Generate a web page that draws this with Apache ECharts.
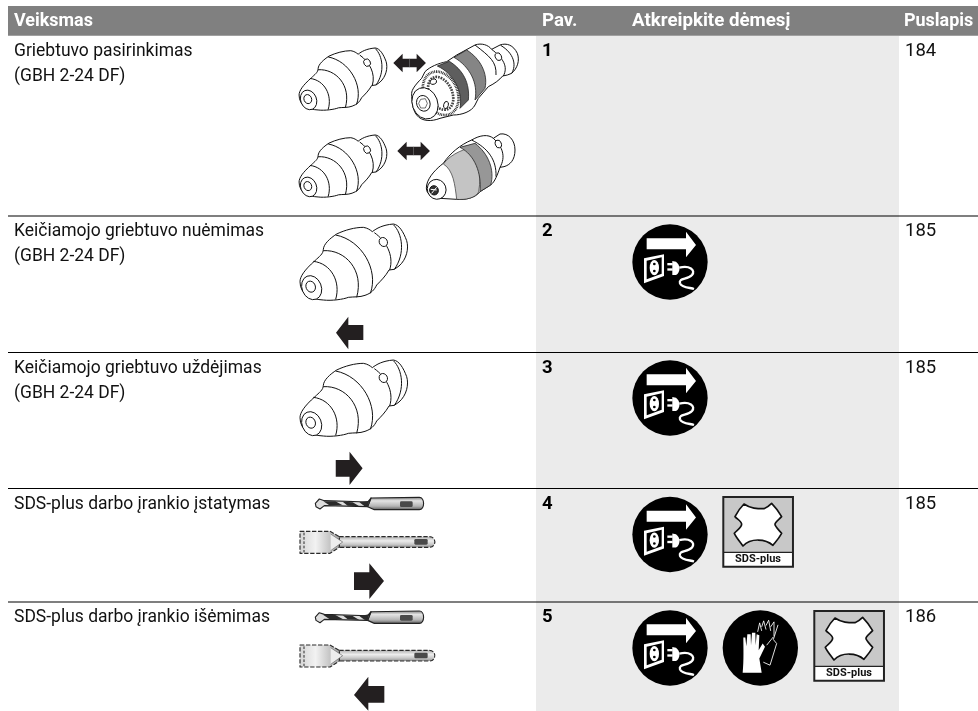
<!DOCTYPE html>
<html><head><meta charset="utf-8">
<style>html,body{margin:0;padding:0;background:#fff}#c{width:978px;height:711px}</style>
<script src="https://cdn.jsdelivr.net/npm/echarts@6/dist/echarts.min.js"></script>
</head><body><div id="c"></div>
<script>
// ---- table content ----
const headers = ['Veiksmas', 'Pav.', 'Atkreipkite dėmesį', 'Puslapis'];
const actions = [
  ['Griebtuvo pasirinkimas', '(GBH 2-24 DF)'],
  ['Keičiamojo griebtuvo nuėmimas', '(GBH 2-24 DF)'],
  ['Keičiamojo griebtuvo uždėjimas', '(GBH 2-24 DF)'],
  ['SDS-plus darbo įrankio įstatymas'],
  ['SDS-plus darbo įrankio išėmimas']
];
const figures = ['1', '2', '3', '4', '5'];
const pages = ['184', '185', '185', '185', '186'];
const sdsLabel = 'SDS-plus';

// ---- layout ----
const FONT = 'Roboto, sans-serif';
const ruleY = [215.6, 352, 488, 601.6];
const rowTop = [36, 216, 352.5, 488.5, 602];
const headX = [14, 542, 632, 904];
const els = [];
const grp = (x, y, s, children, sy) => ({type:'group', x, y, scaleX:s, scaleY:sy||s, children});
const P = (d, fill, stroke, lw, dash) => ({type:'path', shape:{pathData:d}, style:{fill:fill||'none', stroke:stroke||'none', lineWidth:lw||0, lineDash:dash||null, lineJoin:'round'}});
const ell = (cx,cy,rx,ry,rot) => {
  const a = rot*Math.PI/180, dx = rx*Math.cos(a), dy = rx*Math.sin(a);
  return `M ${cx-dx} ${cy-dy} A ${rx} ${ry} ${rot} 1 0 ${cx+dx} ${cy+dy} A ${rx} ${ry} ${rot} 1 0 ${cx-dx} ${cy-dy} Z`;
};
const rect = (x,y,w,h,fill,r) => ({type:'rect', shape:{x,y,width:w,height:h,r:r||0}, style:{fill}});
const circ = (cx,cy,r,fill) => ({type:'circle', shape:{cx,cy,r}, style:{fill}});
const T = (x,y,text,size,weight,fill,sx) => ({type:'text', x, y, scaleX:sx||1, style:{text, fontFamily:FONT, fontSize:size, fontWeight:weight, fill, verticalAlign:'middle', align:'left'}});

// backgrounds
els.push(rect(536,36,363,675,'#ebebeb'));
els.push(rect(8,6,970,29.7,'#808080'));
ruleY.forEach(y => els.push(rect(8,y,970,1,'#000')));

// plain chuck
function chuck(x,y,s){
  const lw = 1.0/s;
  return grp(x,y,s,[
    P('M 15 185 C 15 170 28 150 60 122 C 72 110 85 102 85 88 C 86 72 105 55 125 42 C 150 30 180 22 205 22 C 218 24 226 30 232 35 C 245 25 262 15 295 12 C 312 14 325 35 335 62 C 342 85 335 118 312 138 L 298 148 L 282 150 C 272 168 258 182 245 195 C 238 210 228 220 210 226 C 195 232 175 230 160 232 C 145 238 110 243 85 240 C 50 238 15 225 15 185 Z','#fff','#111',lw),
    P(ell(50,203,29,37,-22),'#fff','#111',lw),
    P(ell(47,200,14,17,-22),'#fff','#111',lw),
    P('M 55 124 C 108 130 138 185 122 238','none','#111',lw),
    P('M 85 92 C 150 88 208 150 185 232','none','#111',lw),
    P('M 122 45 C 200 60 252 150 226 220','none','#111',lw),
    P('M 238 38 C 272 62 298 105 284 150','none','#111',lw),
    P('M 295 14 C 322 40 332 100 298 148','none','#111',lw),
    P(ell(265,66,12,14,-30),'#fff','#111',lw)
  ]);
}
// keyed chuck
function keyed(x,y,s){
  const lw = 1.0/s;
  return grp(x,y,s,[
    P('M 5 160 C 5 150 15 135 35 115 L 45 95 C 60 80 85 70 110 65 L 140 45 L 195 15 C 215 8 235 15 245 28 L 270 15 C 290 8 310 15 322 40 C 330 62 322 85 305 100 L 292 105 L 278 108 C 268 120 255 130 235 140 L 205 175 L 195 195 C 185 215 155 225 130 225 L 90 235 C 65 245 35 245 20 225 C 8 210 5 185 5 160 Z','#fff','#111',lw),
    P('M 82 78 L 118 64 C 160 90 180 130 175 180 L 150 205 C 160 155 130 100 82 78 Z','#5e5e5e','#222',lw*0.8),
    P('M 132 52 L 170 30 C 210 55 235 100 225 145 L 195 180 C 205 130 180 80 132 52 Z','#858585','#222',lw*0.8),
    P(ell(92,160,50,68,-25),'#fff','#222',8,[2.5,2.5]),
    P(ell(92,160,34,52,-25),'none','#444',8,[5,3]),
    P(ell(45,190,38,48,-20),'#fff','#111',lw),
    P(ell(40,190,20,24,-20),'#fff','#111',lw),
    P('M 32 178 L 46 176 L 52 190 L 46 204 L 32 204 L 26 190 Z','#fff','#333',lw*0.7),
    P(ell(70,125,10,8,-20),'#fff','#111',lw),
    P(ell(108,195,7,11,15),'#fff','#111',lw),
    P('M 195 15 C 240 50 260 65 258 105','none','#111',lw),
    P('M 245 28 C 280 55 295 80 280 108','none','#111',lw),
    P('M 272 16 C 312 40 320 75 305 100','none','#111',lw),
    P(ell(265,50,9,12,-25),'#fff','#111',lw)
  ]);
}
// keyless chuck
function keyless(x,y,s){
  const lw = 1.0/s;
  return grp(x,y,s,[
    P('M 440 165 C 445 140 470 115 490 100 C 510 70 540 45 575 30 C 600 15 625 12 640 25 L 660 12 C 685 8 705 30 705 60 C 705 90 690 105 672 110 L 660 112 C 652 135 645 155 632 165 L 600 185 C 585 205 555 210 530 208 L 480 205 C 450 200 435 190 440 165 Z','#fff','#111',lw),
    P('M 490 102 C 515 68 560 55 585 50 C 600 75 605 125 596 186 C 585 205 555 210 530 208 C 525 165 520 120 490 102 Z','#c4c4c4','#333',lw*0.7),
    P('M 540 52 L 585 40 C 625 70 645 120 632 165 L 600 185 C 605 130 585 75 540 52 Z','#979797','#222',lw*0.8),
    P(ell(470,178,28,30,-20),'#fff','#111',lw),
    P(ell(462,181,13,14,-20),'#333','#111',lw),
    P('M 452 178 L 470 180 M 462 181 L 455 190 M 462 181 L 470 172','none','#fff',3),
    P('M 575 30 C 625 55 650 90 648 140','none','#111',lw),
    P('M 640 25 C 668 50 678 80 660 112','none','#111',lw),
    P(ell(655,42,9,12,-20),'#fff','#111',lw)
  ]);
}
const arrowPts = (pts,f) => P('M '+pts.map(p=>p.join(' ')).join(' L ')+' Z', f||'#231f20');
// double arrow
function dbl(x,y){
  return grp(x,y,1/3,[
    arrowPts([[0,0],[28,-28],[28,-13],[70,-13],[70,-28],[98,0],[70,28],[70,13],[28,13],[28,28]]),
    rect(48,-13,1.5,26,'#888')
  ]);
}
// power icon
function power(cx,cy){
  return grp(cx-40,cy-47,1/3,[
    circ(120,141,113,'#000'),
    arrowPts([[50,70],[168,70],[168,50],[198,90],[168,127],[168,103],[50,103]],'#fff'),
    arrowPts([[42,130],[102,118],[102,183],[42,205]],'#fff'),
    arrowPts([[50,137],[95,127],[95,176],[50,193]],'#000'),
    P(ell(73,158,14,23,0),'#fff'),
    circ(73,147,4,'#000'), circ(73,168,4,'#000'),
    rect(112,144,16,7,'#fff'), rect(112,160,16,7,'#fff'),
    P('M 127 138 L 138 140 C 152 150 152 172 138 180 L 127 180 Z','#fff'),
    P('M 148 158 C 178 150 198 165 186 180 C 172 195 145 188 150 205 C 155 218 182 218 192 222','none','#fff',7)
  ]);
}
function glove(cx,cy){
  return grp(cx-160.3,cy-167.8,1/3,[
    circ(481,503.5,113,'#000'),
    P('M 428 578 C 432 540 430 500 430 472 L 436 472 L 439 498 L 442 462 L 452 462 L 453 495 L 456 458 L 466 458 L 467 495 L 470 462 L 478 465 L 476 510 L 488 490 L 495 500 L 478 535 L 485 578 Z','#fff'),
    P('M 473 455 L 479 428 L 485 452 M 485 440 L 491 422 L 498 448 M 498 436 L 506 420 L 512 452 M 512 440 L 522 425 L 522 468 M 534 434 L 520 478 L 530 490 L 510 555 L 490 546 M 500 495 L 520 470','none','#fff',2.6)
  ]);
}
function sds(x,y){
  return grp(x,y,1/3,[
    rect(0,0,215,215,'#222'),
    rect(6,6,203,161,'#c8c8c8'),
    rect(6,171,203,38,'#fff'),
    P('M 65 24 C 85 38 105 38 125 38 C 130 36 140 30 148 22 C 158 32 170 48 178 62 C 168 72 158 78 158 85 C 158 92 170 102 178 112 C 168 130 158 140 152 148 C 130 128 85 125 62 150 C 55 140 42 125 36 112 C 45 102 58 95 58 85 C 58 76 45 70 38 62 C 45 48 55 34 65 24 Z','#fff','#111',5),
    {type:'text', x:107, y:190, style:{text:sdsLabel, fontFamily:FONT, fontSize:33, fontWeight:700, fill:'#111', align:'center', verticalAlign:'middle'}}
  ]);
}
function drill(x,y){
  return grp(x,y,1/3,[
    P('M 225 12 L 370 10 C 387 10 387 47 370 47 L 235 47 L 215 38 Z',
      {type:'linear',x:0,y:0,x2:0,y2:1,colorStops:[{offset:0,color:'#777'},{offset:.3,color:'#e4e4e4'},{offset:.7,color:'#b4b4b4'},{offset:1,color:'#555'}]},'#222',3.4),
    rect(312,22,38,17,'#4a4a4a',4),
    P('M 58 28 L 70 15 L 85 20 L 215 24 L 225 12 L 215 38 L 85 35 L 72 45 L 60 38 Z','#ddd','#222',3.4),
    P('M 82 22 L 118 22 L 140 34 L 100 34 Z M 140 23 L 170 25 L 190 37 L 155 35 Z M 190 25 L 220 20 L 215 38 L 205 36 Z','#2a2a2a'),
    // dashed tool
    P('M 130 128 L 400 128 C 422 128 422 160 400 160 L 130 160 Z',
      {type:'linear',x:0,y:0,x2:0,y2:1,colorStops:[{offset:0,color:'#aaa'},{offset:.4,color:'#ededed'},{offset:.7,color:'#c8c8c8'},{offset:1,color:'#888'}]},'#2a2a2a',3.4,[13,5]),
    P('M 12 112 L 102 112 L 130 128 L 130 160 L 102 178 L 12 178 Z',
      {type:'linear',x:0,y:0,x2:1,y2:0,colorStops:[{offset:0,color:'#d5d5d5'},{offset:.4,color:'#f2f2f2'},{offset:1,color:'#a5a5a5'}]},'#2a2a2a',3.4,[13,5]),
    P('M 24 116 L 24 175','none','#2a2a2a',3,[8,5]),
    P('M 104 120 L 140 144 L 104 170','#eee','#666',2),
    rect(355,135,40,17,'#4a4a4a',4)
  ]);
}

// text
headers.forEach((h,i) => els.push(T(headX[i],21.5,h,18.7,700,'#fff', i===0||i===3 ? 0.96 : 1)));
actions.forEach((lines,r) => lines.forEach((l,k) => els.push(T(14,rowTop[r]+15.7+k*24.7,l,18.5,400,'#111',0.945))));
figures.forEach((f,r) => els.push(T(542,rowTop[r]+15.7,f,18.5,700,'#000')));
pages.forEach((p,r) => els.push(T(905,rowTop[r]+15.7,p,18.5,400,'#111')));

// row 1
els.push(chuck(295,44.7,0.272));
els.push(keyed(410,40,1/3));
els.push(chuck(295,131.7,0.272));
els.push(keyless(280,130,1/3));
els.push(dbl(393.3,63));
els.push(dbl(397.3,151));
// row 2
els.push(chuck(295,220,1/3));
els.push(grp(280,210,1/3,[arrowPts([[168,368],[205,320],[205,345],[250,345],[250,390],[205,390],[205,418]])]));
// row 3
els.push(chuck(295,356,1/3));
els.push(grp(0,340,1/2.904,[arrowPts([[975,360],[1015,360],[1015,335],[1053,385],[1015,435],[1015,410],[975,410]])],1/3));
// row 4
els.push(drill(296,494));
els.push(grp(300,480,1/3,[arrowPts([[162,277],[208,277],[208,250],[252,303],[208,357],[208,330],[162,330]])]));
// row 5
els.push(drill(296,607.7));
els.push(grp(300,480,1/3,[arrowPts([[162,645],[205,590],[205,618],[253,618],[253,668],[205,668],[205,692]])]));
// icons
els.push(power(670,262));
els.push(power(670,398));
els.push(power(670,534.5));
els.push(sds(722.3,496));
els.push(power(670,648));
els.push(glove(760.3,648));
els.push(sds(813.3,610));

const chart = echarts.init(document.getElementById('c'), null, {renderer:'canvas'});
chart.setOption({
  animation:false, backgroundColor:'#fff',
  series:[{type:'custom', coordinateSystem:'none', silent:true, clip:false, data:[[0]],
    renderItem:() => ({type:'group', children:els})}]
});
</script></body></html>
